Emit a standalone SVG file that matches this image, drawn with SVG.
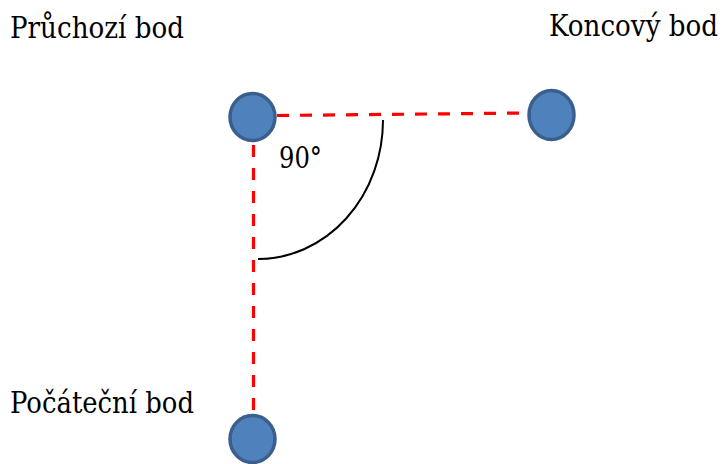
<svg xmlns="http://www.w3.org/2000/svg" width="727" height="464" viewBox="0 0 727 464">
<style>
.node{fill:#4F81BD;stroke:#3A5F8C;stroke-width:3.5}
.dash{stroke:#FF0000;stroke-width:3.2;stroke-dasharray:12 11;fill:none}
.lbl{font-family:'DejaVu Serif',serif;font-size:30px;fill:#000}
</style>
<rect width="727" height="464" fill="#fff"/>
<g id="connectors">
<line class="dash" x1="277" y1="115.5" x2="528" y2="113"/>
<line class="dash" x1="253.5" y1="145" x2="253.5" y2="416"/>
<path d="M383,120 A125,139 0 0 1 258,259" fill="none" stroke="#000" stroke-width="2"/>
<text class="lbl" x="279" y="168" textLength="43" lengthAdjust="spacingAndGlyphs">90°</text>
</g>
<g id="waypoint">
<ellipse class="node" cx="252.5" cy="117" rx="22.5" ry="23.5"/>
<text class="lbl" x="10" y="38" textLength="174" lengthAdjust="spacingAndGlyphs">Průchozí bod</text>
</g>
<g id="end">
<ellipse class="node" cx="551.5" cy="115" rx="22.5" ry="24.5"/>
<text class="lbl" x="549" y="36" textLength="169" lengthAdjust="spacingAndGlyphs">Koncový bod</text>
</g>
<g id="start">
<ellipse class="node" cx="252.5" cy="439" rx="22.5" ry="23.5"/>
<text class="lbl" x="10" y="413" textLength="184" lengthAdjust="spacingAndGlyphs">Počáteční bod</text>
</g>
</svg>
